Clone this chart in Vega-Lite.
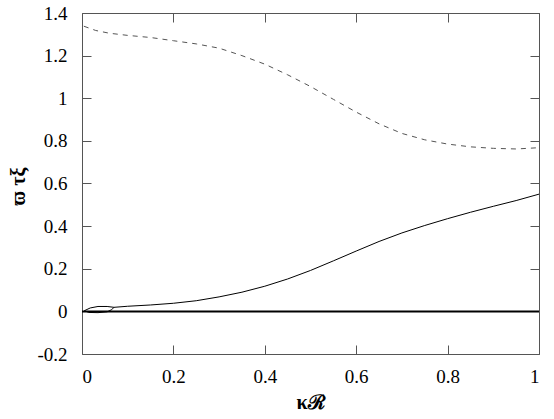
{
  "$schema": "https://vega.github.io/schema/vega-lite/v6.json",
  "width": 457,
  "height": 341,
  "autosize": "none",
  "padding": {"left": 82, "top": 13, "right": 15, "bottom": 65},
  "background": "white",
  "config": {
    "view": {"stroke": "#555", "strokeWidth": 1},
    "axis": {"grid": false, "labelFont": "Liberation Serif", "titleFont": "Liberation Serif", "labelFontSize": 19, "labelColor": "black", "titleColor": "black", "domain": false, "tickColor": "#555", "tickSize": -9, "labelFontWeight": "normal"}
  },
  "datasets": {
    "curves": [
      {"s": "dash", "o": 1, "x": 0.004, "y": 1.338},
      {"s": "dash", "o": 2, "x": 0.03, "y": 1.318},
      {"s": "dash", "o": 3, "x": 0.06, "y": 1.305},
      {"s": "dash", "o": 4, "x": 0.1, "y": 1.295},
      {"s": "dash", "o": 5, "x": 0.15, "y": 1.285},
      {"s": "dash", "o": 6, "x": 0.2, "y": 1.27},
      {"s": "dash", "o": 7, "x": 0.25, "y": 1.255},
      {"s": "dash", "o": 8, "x": 0.3, "y": 1.235},
      {"s": "dash", "o": 9, "x": 0.35, "y": 1.2},
      {"s": "dash", "o": 10, "x": 0.4, "y": 1.16},
      {"s": "dash", "o": 11, "x": 0.45, "y": 1.11},
      {"s": "dash", "o": 12, "x": 0.5, "y": 1.055},
      {"s": "dash", "o": 13, "x": 0.55, "y": 0.995},
      {"s": "dash", "o": 14, "x": 0.6, "y": 0.935},
      {"s": "dash", "o": 15, "x": 0.65, "y": 0.88},
      {"s": "dash", "o": 16, "x": 0.7, "y": 0.835},
      {"s": "dash", "o": 17, "x": 0.75, "y": 0.805},
      {"s": "dash", "o": 18, "x": 0.8, "y": 0.785},
      {"s": "dash", "o": 19, "x": 0.85, "y": 0.772},
      {"s": "dash", "o": 20, "x": 0.9, "y": 0.765},
      {"s": "dash", "o": 21, "x": 0.95, "y": 0.762},
      {"s": "dash", "o": 22, "x": 1.0, "y": 0.768},
      {"s": "solid", "o": 1, "x": 0.07, "y": 0.019},
      {"s": "solid", "o": 2, "x": 0.055, "y": 0.023},
      {"s": "solid", "o": 3, "x": 0.035, "y": 0.023},
      {"s": "solid", "o": 4, "x": 0.018, "y": 0.016},
      {"s": "solid", "o": 5, "x": 0.005, "y": 0.003},
      {"s": "solid", "o": 6, "x": 0.015, "y": -0.005},
      {"s": "solid", "o": 7, "x": 0.035, "y": -0.006},
      {"s": "solid", "o": 8, "x": 0.055, "y": -0.002},
      {"s": "solid", "o": 9, "x": 0.065, "y": 0.008},
      {"s": "solid", "o": 10, "x": 0.07, "y": 0.019},
      {"s": "solid", "o": 11, "x": 0.1, "y": 0.024},
      {"s": "solid", "o": 12, "x": 0.15, "y": 0.03},
      {"s": "solid", "o": 13, "x": 0.2, "y": 0.038},
      {"s": "solid", "o": 14, "x": 0.25, "y": 0.05},
      {"s": "solid", "o": 15, "x": 0.3, "y": 0.068},
      {"s": "solid", "o": 16, "x": 0.35, "y": 0.09},
      {"s": "solid", "o": 17, "x": 0.4, "y": 0.118},
      {"s": "solid", "o": 18, "x": 0.45, "y": 0.152},
      {"s": "solid", "o": 19, "x": 0.5, "y": 0.192},
      {"s": "solid", "o": 20, "x": 0.55, "y": 0.237},
      {"s": "solid", "o": 21, "x": 0.6, "y": 0.283},
      {"s": "solid", "o": 22, "x": 0.65, "y": 0.328},
      {"s": "solid", "o": 23, "x": 0.7, "y": 0.368},
      {"s": "solid", "o": 24, "x": 0.75, "y": 0.403},
      {"s": "solid", "o": 25, "x": 0.8, "y": 0.435},
      {"s": "solid", "o": 26, "x": 0.85, "y": 0.465},
      {"s": "solid", "o": 27, "x": 0.9, "y": 0.493},
      {"s": "solid", "o": 28, "x": 0.95, "y": 0.52},
      {"s": "solid", "o": 29, "x": 1.0, "y": 0.55},
      {"s": "zero", "o": 1, "x": 0.0, "y": 0.0},
      {"s": "zero", "o": 2, "x": 1.0, "y": 0.0}
    ]
  },
  "layer": [
    {
      "data": {"name": "curves"},
      "mark": {"type": "line", "clip": true, "strokeDash": [5, 5], "color": "#555", "strokeWidth": 1},
      "transform": [{"filter": "datum.s == 'dash'"}],
      "encoding": {
        "x": {"field": "x", "type": "quantitative", "scale": {"domain": [0, 1], "nice": false, "zero": false},
          "axis": {"orient": "bottom", "values": [0, 0.2, 0.4, 0.6, 0.8, 1], "labelExpr": "datum.value + ''", "labelPadding": 22, "title": "κℛ", "titleFontSize": 20, "titleFontWeight": "bold", "titleX": 228, "titleY": 54, "titleBaseline": "alphabetic"}},
        "y": {"field": "y", "type": "quantitative", "scale": {"domain": [-0.2, 1.4], "nice": false, "zero": false},
          "axis": {"orient": "left", "values": [-0.2, 0, 0.2, 0.4, 0.6, 0.8, 1, 1.2, 1.4], "labelExpr": "datum.value < 0 ? '-' + (-datum.value) : datum.value + ''", "labelPadding": 24, "title": "ϖ τξ", "titleFontSize": 20, "titleFontWeight": "bold", "titleX": -64, "titleY": 173, "titleAngle": -90, "titleBaseline": "middle"}},
        "order": {"field": "o", "type": "quantitative"}
      }
    },
    {
      "data": {"name": "curves"},
      "mark": {"type": "line", "clip": true, "color": "black", "strokeWidth": 1},
      "transform": [{"filter": "datum.s == 'solid'"}],
      "encoding": {
        "x": {"field": "x", "type": "quantitative", "axis": {"orient": "top", "values": [0, 0.2, 0.4, 0.6, 0.8, 1], "labels": false, "title": null}},
        "y": {"field": "y", "type": "quantitative", "axis": {"orient": "right", "values": [-0.2, 0, 0.2, 0.4, 0.6, 0.8, 1, 1.2, 1.4], "labels": false, "title": null}},
        "order": {"field": "o", "type": "quantitative"}
      }
    },
    {
      "data": {"name": "curves"},
      "mark": {"type": "line", "clip": true, "color": "black", "strokeWidth": 2},
      "transform": [{"filter": "datum.s == 'zero'"}],
      "encoding": {
        "x": {"field": "x", "type": "quantitative", "axis": null},
        "y": {"field": "y", "type": "quantitative", "axis": null},
        "order": {"field": "o", "type": "quantitative"}
      }
    }
  ],
  "resolve": {"axis": {"x": "independent", "y": "independent"}}
}
